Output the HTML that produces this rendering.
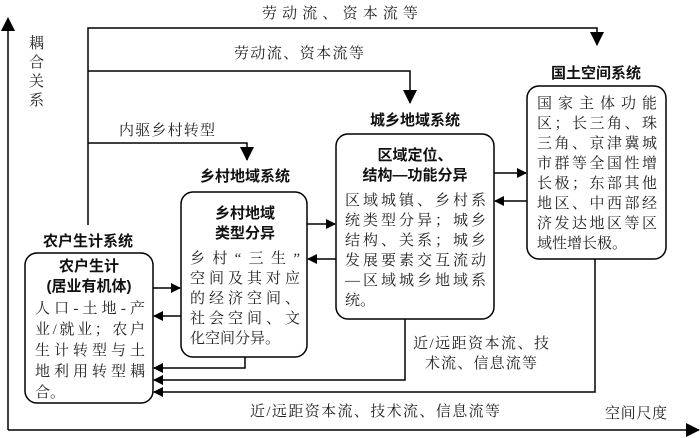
<!DOCTYPE html>
<html><head><meta charset="utf-8"><style>
html,body{margin:0;padding:0;background:#fff;}
svg{display:block;}
.s{font-family:"Liberation Serif","Noto Serif CJK SC",serif;font-size:15px;fill:#222;}
.b{font-family:"Liberation Sans","Noto Sans CJK SC",sans-serif;font-size:15px;font-weight:bold;fill:#111;}
</style></head><body>
<svg width="700" height="438" viewBox="0 0 700 438" xmlns="http://www.w3.org/2000/svg">
<defs><marker id="a" markerWidth="10" markerHeight="10" refX="9" refY="5" orient="auto" markerUnits="userSpaceOnUse"><path d="M0,0 L10,5 L0,10 Z" fill="#000"/></marker>
<marker id="c" markerWidth="14" markerHeight="14" refX="13" refY="7" orient="auto" markerUnits="userSpaceOnUse"><path d="M0,0 L14,7 L0,14 Z" fill="#000"/></marker></defs>
<g stroke="#000" stroke-width="1.5" fill="none">
<line x1="8" y1="430" x2="8" y2="18" marker-end="url(#c)"/>
<line x1="8" y1="430" x2="699" y2="430" marker-end="url(#c)"/>
<polyline points="88,225 88,28 597,28 597,45" marker-end="url(#c)"/>
<polyline points="88,71 410,71 410,103" marker-end="url(#c)"/>
<polyline points="88,143 247,143 247,160" marker-end="url(#c)"/>
<rect x="25" y="253" width="128" height="150" rx="12"/>
<rect x="181" y="192" width="126" height="165" rx="12"/>
<rect x="336" y="134" width="158" height="185" rx="12"/>
<rect x="527" y="86" width="139" height="173" rx="12"/>
<line x1="153" y1="288" x2="180" y2="288" marker-end="url(#a)"/>
<line x1="181" y1="316" x2="154" y2="316" marker-end="url(#a)"/>
<line x1="307" y1="224" x2="335" y2="224" marker-end="url(#a)"/>
<line x1="336" y1="259" x2="308" y2="259" marker-end="url(#a)"/>
<line x1="494" y1="173" x2="526" y2="173" marker-end="url(#a)"/>
<line x1="527" y1="201" x2="495" y2="201" marker-end="url(#a)"/>
<polyline points="245,357 245,368 154,368" marker-end="url(#a)"/>
<polyline points="405,319 405,380 154,380" marker-end="url(#a)"/>
<polyline points="595,259 595,392 154,392" marker-end="url(#a)"/>
</g>
<g class="s">
<text x="262" y="18" textLength="156">劳动流、资本流等</text>
<text x="234" y="58" textLength="130">劳动流、资本流等</text>
<text x="119" y="135" textLength="96">内驱乡村转型</text>
<text x="29" y="48">耦</text><text x="29" y="67">合</text><text x="29" y="86">关</text><text x="29" y="105">系</text>
<text x="413" y="348" textLength="136">近/远距资本流、技</text>
<text x="425" y="368" textLength="112">术流、信息流等</text>
<text x="250" y="416" textLength="250">近/远距资本流、技术流、信息流等</text>
<text x="605" y="418" textLength="62">空间尺度</text>
<text x="35" y="313" textLength="110">人口-土地-产</text>
<text x="35" y="334" textLength="110">业/就业；农户</text>
<text x="35" y="355" textLength="110">生计转型与土</text>
<text x="35" y="376" textLength="110">地利用转型耦</text>
<text x="35" y="397">合。</text>
<text x="190" y="263" textLength="110">乡村“三生”</text>
<text x="190" y="283" textLength="110">空间及其对应</text>
<text x="190" y="303" textLength="110">的经济空间、</text>
<text x="190" y="323" textLength="110">社会空间、文</text>
<text x="190" y="343">化空间分异。</text>
<text x="345" y="205" textLength="141">区域城镇、乡村系</text>
<text x="345" y="225" textLength="141">统类型分异；城乡</text>
<text x="345" y="245" textLength="141">结构、关系；城乡</text>
<text x="345" y="265" textLength="141">发展要素交互流动</text>
<text x="345" y="285" textLength="141">—区域城乡地域系</text>
<text x="345" y="305">统。</text>
<text x="537" y="108" textLength="120">国家主体功能</text>
<text x="537" y="128" textLength="120">区；长三角、珠</text>
<text x="537" y="148" textLength="120">三角、京津冀城</text>
<text x="537" y="168" textLength="120">市群等全国性增</text>
<text x="537" y="188" textLength="120">长极；东部其他</text>
<text x="537" y="208" textLength="120">地区、中西部经</text>
<text x="537" y="228" textLength="120">济发达地区等区</text>
<text x="537" y="248">域性增长极。</text>
</g>
<g class="b" text-anchor="middle">
<text x="88" y="246">农户生计系统</text>
<text x="245" y="181">乡村地域系统</text>
<text x="415" y="125">城乡地域系统</text>
<text x="596" y="78">国土空间系统</text>
<text x="89" y="271">农户生计</text>
<text x="89" y="291">(居业有机体)</text>
<text x="245" y="218">乡村地域</text>
<text x="245" y="238">类型分异</text>
<text x="415" y="160">区域定位、</text>
<text x="415" y="180">结构—功能分异</text>
</g>
</svg>
</body></html>
